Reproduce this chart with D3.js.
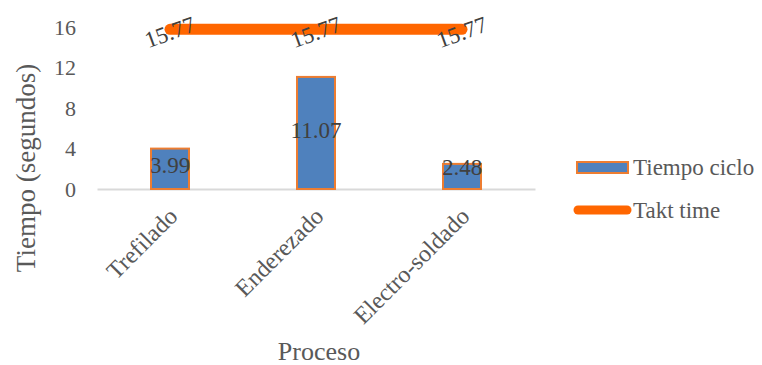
<!DOCTYPE html>
<html>
<head>
<meta charset="utf-8">
<script src="https://cdn.jsdelivr.net/npm/d3@7/dist/d3.min.js"></script>
</head>
<body style="margin:0;background:#fff">
<svg id="chart" width="762" height="365" style="display:block"></svg>
<script>
// Cycle time per process vs. takt time
const categories = ["Trefilado", "Enderezado", "Electro-soldado"];
const cycleTime = [3.99, 11.07, 2.48];
const taktTime = [15.77, 15.77, 15.77];
const yTicks = [0, 4, 8, 12, 16];

const FONT = "'Liberation Serif', 'Times New Roman', Tinos, serif";
const svg = d3.select("#chart");
const plot = { left: 97, right: 535, top: 27, bottom: 189 };

const x = d3.scaleBand().domain(categories).range([plot.left, plot.right]);
const y = d3.scaleLinear().domain([0, 16]).range([plot.bottom, plot.top]);
const barW = 38;

// Y axis labels
const yAxis = d3.axisLeft(y).tickValues(yTicks).tickSize(0).tickPadding(0);
const gy = svg.append("g").attr("transform", `translate(${plot.left - 21},0)`).call(yAxis);
gy.select(".domain").remove();
gy.selectAll("text")
  .attr("fill", "#595959")
  .style("font-family", FONT)
  .style("font-size", "22px");

// X axis baseline and rotated category labels
const xAxis = d3.axisBottom(x).tickSize(0).tickPadding(0);
const gx = svg.append("g").attr("transform", `translate(0,${plot.bottom})`).call(xAxis);
gx.select(".domain").attr("stroke", "#d9d9d9").attr("stroke-width", 2);
gx.selectAll("text")
  .attr("fill", "#595959")
  .style("font-family", FONT)
  .style("font-size", "24px")
  .attr("text-anchor", "end")
  .attr("dy", null)
  .attr("y", null)
  .attr("transform", "translate(-3,17) rotate(-45)")
  .attr("dominant-baseline", "hanging");

// Bars
svg.append("g").selectAll("rect")
  .data(cycleTime)
  .join("rect")
  .attr("x", (d, i) => x(categories[i]) + x.bandwidth() / 2 - barW / 2)
  .attr("y", d => y(d))
  .attr("width", barW)
  .attr("height", d => y(0) - y(d))
  .attr("fill", "#4f81bd")
  .attr("stroke", "#ed7d31")
  .attr("stroke-width", 2);

// Bar value labels
svg.append("g").selectAll("text")
  .data(cycleTime)
  .join("text")
  .attr("x", (d, i) => x(categories[i]) + x.bandwidth() / 2)
  .attr("y", d => Math.min((y(d) + y(0)) / 2 - 3, y(0) - 22))
  .attr("dy", "0.33em")
  .attr("text-anchor", "middle")
  .attr("fill", "#404040")
  .style("font-family", FONT)
  .style("font-size", "23px")
  .text(d => d.toFixed(2));

// Takt time line
const line = d3.line()
  .x((d, i) => x(categories[i]) + x.bandwidth() / 2)
  .y(d => y(d));
svg.append("path")
  .datum(taktTime)
  .attr("d", line)
  .attr("fill", "none")
  .attr("stroke", "#ff6600")
  .attr("stroke-width", 11)
  .attr("stroke-linecap", "round")
  .attr("stroke-linejoin", "round");

// Takt time labels
svg.append("g").selectAll("text")
  .data(taktTime)
  .join("text")
  .attr("transform", (d, i) => `translate(${x(categories[i]) + x.bandwidth() / 2},${y(d) + 3}) rotate(-20)`)
  .attr("dy", "0.33em")
  .attr("text-anchor", "middle")
  .attr("fill", "#404040")
  .style("font-family", FONT)
  .style("font-size", "23px")
  .text(d => d.toFixed(2));

// Axis titles
svg.append("text")
  .attr("transform", `translate(35,168) rotate(-90)`)
  .attr("text-anchor", "middle")
  .attr("fill", "#595959")
  .style("font-family", FONT)
  .style("font-size", "27px")
  .text("Tiempo (segundos)");

svg.append("text")
  .attr("x", 319)
  .attr("y", 360)
  .attr("text-anchor", "middle")
  .attr("fill", "#595959")
  .style("font-family", FONT)
  .style("font-size", "26px")
  .text("Proceso");

// Legend
const legend = svg.append("g");
legend.append("rect")
  .attr("x", 577).attr("y", 162).attr("width", 51).attr("height", 11)
  .attr("fill", "#4f81bd").attr("stroke", "#ed7d31").attr("stroke-width", 2);
legend.append("text")
  .attr("x", 633).attr("y", 167).attr("dy", "0.33em")
  .attr("fill", "#595959")
  .style("font-family", FONT).style("font-size", "23px")
  .text("Tiempo ciclo");
legend.append("line")
  .attr("x1", 578).attr("x2", 627).attr("y1", 210).attr("y2", 210)
  .attr("stroke", "#ff6600").attr("stroke-width", 9).attr("stroke-linecap", "round");
legend.append("text")
  .attr("x", 633).attr("y", 210).attr("dy", "0.33em")
  .attr("fill", "#595959")
  .style("font-family", FONT).style("font-size", "23px")
  .text("Takt time");
</script>
</body>
</html>
